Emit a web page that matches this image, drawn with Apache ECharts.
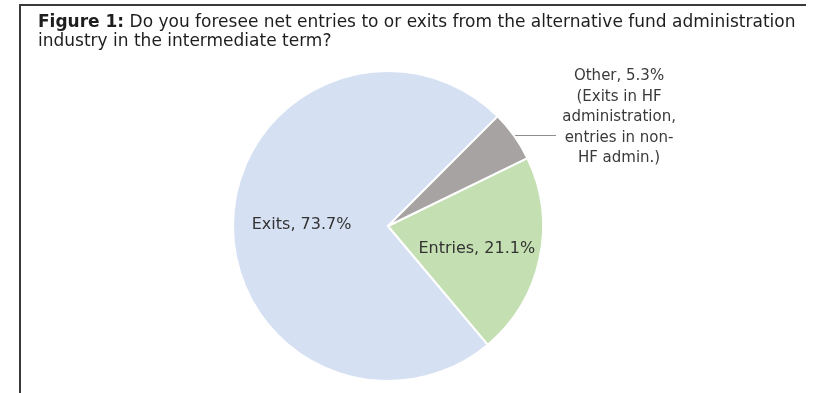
<!DOCTYPE html>
<html>
<head>
<meta charset="utf-8">
<title>Figure 1</title>
<script src="https://cdn.jsdelivr.net/npm/echarts@6/dist/echarts.min.js"></script>
<style>
  html, body { margin: 0; padding: 0; background: #ffffff; }
  #chart { width: 825px; height: 393px; }
</style>
</head>
<body>
<div id="chart"></div>
<script>
// Survey answers and their shares (%)
const categories = ['Exits', 'Entries', 'Other'];
const shares = [73.7, 21.1, 5.3];
const colors = ['#d6e0f3', '#c4dfb2', '#a7a3a3'];
// Explanatory note printed under the "Other" share
const otherNote = ['(Exits in HF', 'administration,', 'entries in non-', 'HF admin.)'];

const titleLine1 = 'Do you foresee net entries to or exits from the alternative fund administration';
const titleLine2 = 'industry in the intermediate term?';

const FONT = 'DejaVu Sans';

const pieData = categories.map((name, i) => {
  const item = { name: name, value: shares[i], itemStyle: { color: colors[i] } };
  if (name === 'Other') {
    item.label = {
      position: 'outside',
      formatter: (p) => [p.name + ', ' + p.value + '%'].concat(otherNote)
        .map(s => '{o|' + s + '}').join('\n'),
      padding: [0, 0, 36, 0],
      distanceToLabelLine: 3,
      rich: { o: { width: 120, align: 'center', fontSize: 15, lineHeight: 20.5, color: '#3a3a3a', fontFamily: FONT } }
    };
    item.labelLine = { show: true, length: 1, length2: 41, lineStyle: { color: '#8c8c8c', width: 1 } };
  } else {
    item.label = {
      position: 'inside',
      formatter: (p) => p.name + ', ' + p.value + '%',
      offset: name === 'Exits' ? [-6, 2] : [10, 6]
    };
    item.labelLine = { show: false };
  }
  return item;
});

const chart = echarts.init(document.getElementById('chart'), null, { renderer: 'canvas' });
chart.setOption({
  animation: false,
  backgroundColor: '#ffffff',
  title: {
    left: 38,
    top: 13,
    padding: 0,
    text: '{b|Figure 1:} ' + titleLine1 + '\n' + titleLine2,
    textStyle: {
      fontFamily: FONT,
      fontSize: 17,
      fontWeight: 'normal',
      lineHeight: 19,
      color: '#1e1e1e',
      rich: {
        b: { fontFamily: FONT, fontSize: 17, fontWeight: 'bold', lineHeight: 19, color: '#1e1e1e' }
      }
    }
  },
  graphic: [
    { type: 'line', shape: { x1: 19, y1: 5, x2: 806, y2: 5 }, style: { stroke: '#3a3a3a', lineWidth: 2 } },
    { type: 'line', shape: { x1: 20, y1: 4, x2: 20, y2: 393 }, style: { stroke: '#3a3a3a', lineWidth: 2 } }
  ],
  series: [{
    type: 'pie',
    center: [388, 226],
    radius: 155,
    startAngle: 45,
    clockwise: false,
    avoidLabelOverlap: false,
    silent: true,
    itemStyle: { borderColor: '#ffffff', borderWidth: 2 },
    label: {
      fontFamily: FONT,
      fontSize: 16,
      color: '#333333'
    },
    data: pieData
  }]
});
</script>
</body>
</html>
